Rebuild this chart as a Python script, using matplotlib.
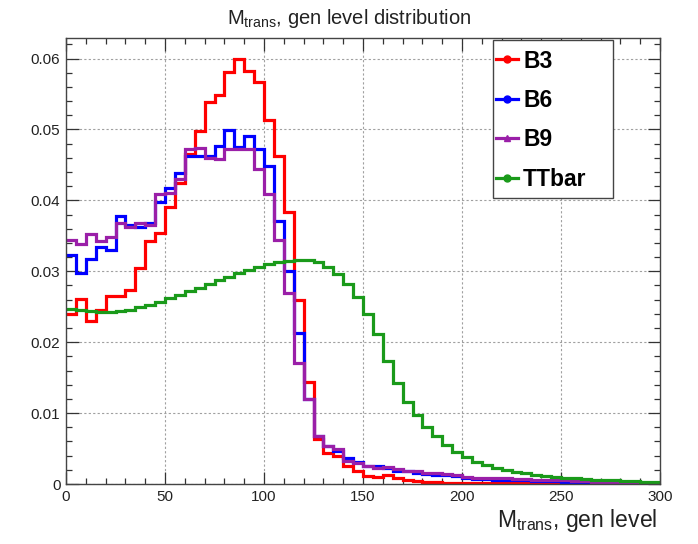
import matplotlib
matplotlib.use("Agg")
import matplotlib.pyplot as plt
from matplotlib.lines import Line2D
from matplotlib.patches import Rectangle
from matplotlib.ticker import MultipleLocator, FixedLocator
import numpy as np

plt.rcParams['font.family'] = ['Liberation Sans', 'DejaVu Sans']
plt.rcParams['mathtext.fontset'] = 'custom'
plt.rcParams['mathtext.rm'] = 'Liberation Sans'

# Histogram binning: 60 bins of width 5 from 0 to 300
bin_lo, bin_hi, n_bins = 0, 300, 60

b3 = [0.0240, 0.0261, 0.0230, 0.0246, 0.0265, 0.0265, 0.0274, 0.0305, 0.0342, 0.0354,
      0.0391, 0.0425, 0.0465, 0.0498, 0.0538, 0.0548, 0.0581, 0.0599, 0.0582, 0.0567,
      0.0514, 0.0463, 0.0383, 0.0259, 0.0144, 0.0063, 0.0044, 0.0039, 0.0025, 0.0018,
      0.0011, 0.0010, 0.0012, 0.0009, 0.0006, 0.0004, 0.0003, 0.0003, 0.0002, 0.0002,
      0.0001, 0.0001, 0.0001, 0.0001, 0.0001, 0.0001, 0.0001, 0.0001, 0.0001, 0.0001,
      0.0001, 0.0001, 0.0001, 0.0001, 0.0000, 0.0000, 0.0000, 0.0000, 0.0000, 0.0000]

b6 = [0.0323, 0.0298, 0.0318, 0.0334, 0.0330, 0.0378, 0.0365, 0.0363, 0.0368, 0.0397,
      0.0418, 0.0439, 0.0463, 0.0463, 0.0463, 0.0477, 0.0499, 0.0475, 0.0491, 0.0472,
      0.0448, 0.0371, 0.0301, 0.0213, 0.0120, 0.0067, 0.0054, 0.0047, 0.0037, 0.0031,
      0.0026, 0.0025, 0.0022, 0.0019, 0.0018, 0.0016, 0.0014, 0.0013, 0.0012, 0.0011,
      0.0008, 0.0007, 0.0007, 0.0006, 0.0005, 0.0005, 0.0005, 0.0004, 0.0004, 0.0004,
      0.0003, 0.0003, 0.0002, 0.0002, 0.0002, 0.0002, 0.0001, 0.0001, 0.0001, 0.0001]

b9 = [0.0344, 0.0339, 0.0353, 0.0342, 0.0349, 0.0368, 0.0362, 0.0368, 0.0365, 0.0409,
      0.0410, 0.0430, 0.0472, 0.0474, 0.0460, 0.0458, 0.0472, 0.0472, 0.0472, 0.0444,
      0.0409, 0.0344, 0.0270, 0.0170, 0.0120, 0.0067, 0.0054, 0.0049, 0.0032, 0.0030,
      0.0026, 0.0022, 0.0024, 0.0021, 0.0019, 0.0018, 0.0016, 0.0015, 0.0014, 0.0012,
      0.0010, 0.0009, 0.0009, 0.0008, 0.0008, 0.0007, 0.0007, 0.0006, 0.0006, 0.0005,
      0.0005, 0.0004, 0.0004, 0.0003, 0.0003, 0.0003, 0.0002, 0.0002, 0.0002, 0.0001]

ttbar = [0.0247, 0.0245, 0.0244, 0.0243, 0.0243, 0.0244, 0.0246, 0.0249, 0.0253, 0.0257,
         0.0262, 0.0267, 0.0272, 0.0277, 0.0282, 0.0287, 0.0292, 0.0297, 0.0302, 0.0306,
         0.0310, 0.0313, 0.0315, 0.0316, 0.0316, 0.0313, 0.0306, 0.0296, 0.0282, 0.0264,
         0.0240, 0.0211, 0.0174, 0.0142, 0.0116, 0.0097, 0.0081, 0.0067, 0.0055, 0.0045,
         0.0038, 0.0031, 0.0027, 0.0023, 0.0020, 0.0017, 0.0015, 0.0013, 0.0011, 0.0010,
         0.0009, 0.0008, 0.0007, 0.0006, 0.0005, 0.0005, 0.0004, 0.0004, 0.0003, 0.0003]

series_names = ["B3", "B6", "B9", "TTbar"]
series_values = [b3, b6, b9, ttbar]
series_colors = ["#ff0000", "#0000ff", "#9a1fa8", "#1a9a1a"]
series_markers = ["o", "o", "^", "o"]

x_ticks = [0, 50, 100, 150, 200, 250, 300]
y_ticks = [0, 0.01, 0.02, 0.03, 0.04, 0.05, 0.06]
y_tick_labels = ["0", "0.01", "0.02", "0.03", "0.04", "0.05", "0.06"]

W, H = 698, 544
AX_L, AX_R, AX_T, AX_B = 66, 660, 38, 484
fig = plt.figure(figsize=(W / 100, H / 100), dpi=100)
fig.patch.set_facecolor("white")
ax = fig.add_axes([AX_L / W, 1 - AX_B / H, (AX_R - AX_L) / W, (AX_B - AX_T) / H])


def ax_frac(px, py):
    """Pixel position on the canvas -> axes fraction."""
    return (px - AX_L) / (AX_R - AX_L), (AX_B - py) / (AX_B - AX_T)


edges = np.linspace(bin_lo, bin_hi, n_bins + 1)
for vals, col in zip(series_values, series_colors):
    ax.stairs(vals, edges, baseline=None, color=col, lw=2.3)

ymax = 1.05 * max(max(v) for v in series_values)
ax.set_xlim(bin_lo, bin_hi)
ax.set_ylim(0, ymax)

ax.xaxis.set_major_locator(FixedLocator(x_ticks))
ax.xaxis.set_minor_locator(MultipleLocator(10))
ax.set_xticklabels([str(t) for t in x_ticks])
ax.yaxis.set_major_locator(FixedLocator(y_ticks))
ax.yaxis.set_minor_locator(MultipleLocator(0.002))
ax.set_yticklabels(y_tick_labels)

ax.tick_params(which="both", direction="in", top=True, right=True,
               color="#333333", labelsize=11, labelcolor="#222222")
ax.tick_params(which="major", length=9, width=0.9, pad=4)
ax.tick_params(which="minor", length=4.5, width=0.9)
for sp in ax.spines.values():
    sp.set_color("#444444")
    sp.set_linewidth(1.0)

ax.grid(True, which="major", color="#a0a0a0", linestyle=(0, (2, 2)), lw=0.8)
ax.set_axisbelow(True)

fig.text(349 / W, 1 - 18 / H, r"M$_{\mathregular{trans}}$, gen level distribution",
         ha="center", va="center", fontsize=14.5, color="#222222")
fig.text(657 / W, 1 - 521 / H, r"M$_{\mathregular{trans}}$, gen level",
         ha="right", va="center", fontsize=16.5, color="#222222")

# Legend box
bx0, by0 = ax_frac(493, 198)
bx1, by1 = ax_frac(613, 40)
ax.add_patch(Rectangle((bx0, by0), bx1 - bx0, by1 - by0, transform=ax.transAxes,
                       facecolor="white", edgecolor="#444444", lw=1.0, zorder=4))

handles = [Line2D([0], [0], color=c, lw=2.3, marker=m, markersize=5)
           for c, m in zip(series_colors, series_markers)]
leg = ax.legend(handles, series_names, loc="upper left",
                bbox_to_anchor=ax_frac(496, 49.5),
                bbox_transform=ax.transAxes,
                prop={"weight": "bold", "size": 16.5},
                frameon=False, borderaxespad=0, borderpad=0, labelspacing=0.715,
                handlelength=0.96, handletextpad=0.22)
leg.set_zorder(5)

fig.savefig("out.png", dpi=100)
